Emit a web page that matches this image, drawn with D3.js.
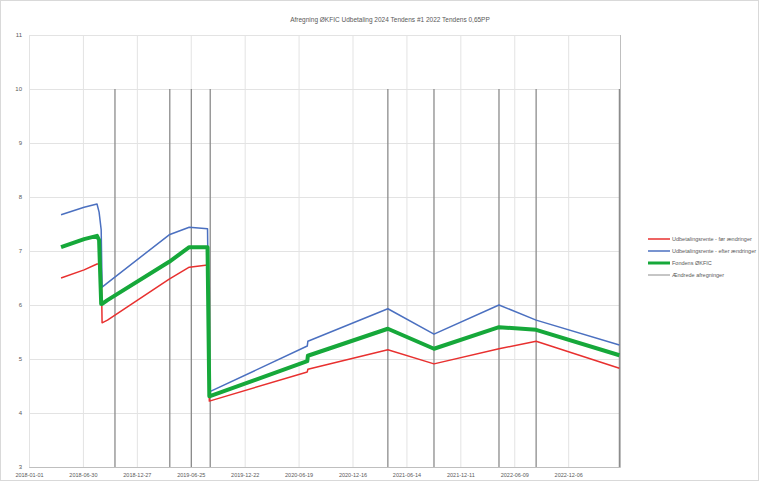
<!DOCTYPE html>
<html><head><meta charset="utf-8">
<script src="https://cdn.jsdelivr.net/npm/d3@7"></script>
<style>body{margin:0;background:#fff}svg{display:block;font-family:"Liberation Sans",Arial,sans-serif}</style>
</head><body><svg id="c" width="759" height="481"></svg>
<script>
const title = "Afregning ØKFIC Udbetaling 2024 Tendens #1 2022 Tendens 0,65PP";
const seriesNames = ["Udbetalingsrente - før ændringer", "Udbetalingsrente - efter ændringer", "Fondens ØKFIC", "Ændrede afregninger"];
const dates = ["2018-04-18","2018-07-04","2018-08-16","2018-08-23","2018-08-30","2018-09-02","2018-09-20","2019-04-14","2019-06-20","2019-08-20","2019-08-26","2020-07-18","2020-07-20","2021-04-13","2021-09-14","2022-04-19","2022-08-21","2023-05-26"];
const redValues   = [6.50,6.65,6.76,6.76,6.76,5.67,5.72,6.48,6.70,6.74,4.22,4.76,4.81,5.17,4.91,5.19,5.33,4.83];
const blueValues  = [7.67,7.81,7.87,7.72,7.39,6.33,6.41,7.30,7.44,7.41,4.39,5.24,5.33,5.93,5.46,6.00,5.72,5.26];
const greenValues = [7.07,7.22,7.28,7.20,6.02,6.02,6.09,6.80,7.07,7.07,4.31,4.96,5.06,5.56,5.19,5.59,5.54,5.07];
const eventDates = ["2018-10-15","2019-04-16","2019-06-27","2019-08-29","2021-04-13","2021-09-14","2022-04-19","2022-08-21","2023-05-26"];
const eventTop = 10;
const yTicks = [3,4,5,6,7,8,9,10,11];
const xTickDates = ["2018-01-01","2018-06-30","2018-12-27","2019-06-25","2019-12-22","2020-06-19","2020-12-16","2021-06-14","2021-12-11","2022-06-09","2022-12-06"];
const xEnd = "2023-05-28";

const parse = d3.timeParse("%Y-%m-%d");
const fmt = d3.timeFormat("%Y-%m-%d");
const svg = d3.select("#c");
const W = 759, H = 481;
const x = d3.scaleTime().domain([parse(xTickDates[0]), parse(xEnd)]).range([29, 620]);
const y = d3.scaleLinear().domain([3, 11]).range([467, 35]);

svg.append("rect").attr("x",0.5).attr("y",0.5).attr("width",W-1).attr("height",H-1).attr("fill","#fff").attr("stroke","#d9d9d9");

svg.append("text").attr("x",390).attr("y",22).attr("text-anchor","middle").attr("font-size",6.5).attr("fill","#595959").text(title);

const gy = svg.append("g").attr("transform","translate(29,0)")
  .call(d3.axisLeft(y).tickValues(yTicks).tickSize(-591).tickFormat(d3.format("d")));
gy.select(".domain").attr("stroke","#bfbfbf");
gy.selectAll(".tick line").attr("stroke","#e3e3e3");
gy.selectAll(".tick text").attr("font-size",6).attr("fill","#595959").attr("x",-7);

const gx = svg.append("g").attr("transform","translate(0,467)")
  .call(d3.axisBottom(x).tickValues(xTickDates.map(parse)).tickSize(-432).tickFormat(fmt));
gx.select(".domain").attr("stroke","#bfbfbf");
gx.selectAll(".tick line").attr("stroke","#e3e3e3");
gx.selectAll(".tick text").attr("font-size",5.5).attr("fill","#595959").attr("y",6);

svg.append("g").selectAll("line").data(eventDates).join("line")
  .attr("x1",d=>x(parse(d))).attr("x2",d=>x(parse(d)))
  .attr("y1",y(eventTop)).attr("y2",y(3))
  .attr("stroke","#8c8c8c").attr("stroke-width",1.3);

const line = vals => d3.line().x((d,i)=>x(parse(dates[i]))).y(d=>y(d))(vals);
const series = [
  {vals: redValues, color:"#e8302f", w:1.5},
  {vals: blueValues, color:"#4b70c0", w:1.5},
  {vals: greenValues, color:"#16a83a", w:4}
];
series.forEach(s => svg.append("path").attr("d",line(s.vals)).attr("fill","none")
  .attr("stroke",s.color).attr("stroke-width",s.w).attr("stroke-linejoin","round"));

const legColors = ["#e8302f","#4b70c0","#16a83a","#8c8c8c"];
const legW = [1.5,1.5,3,1];
const lg = svg.append("g");
seriesNames.forEach((n,i) => {
  const yy = 239 + i*12;
  lg.append("line").attr("x1",648).attr("x2",670).attr("y1",yy).attr("y2",yy).attr("stroke",legColors[i]).attr("stroke-width",legW[i]);
  lg.append("text").attr("x",672).attr("y",yy+2).attr("font-size",5.5).attr("fill","#595959").text(n);
});
</script></body></html>
